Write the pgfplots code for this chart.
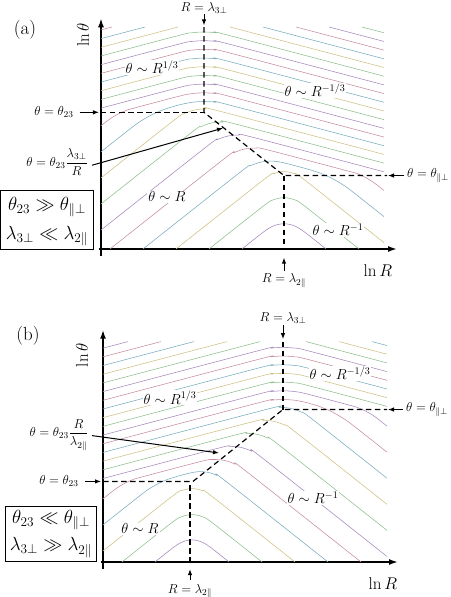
\RequirePackage{fix-cm}
\documentclass[border=0pt]{standalone}
\usepackage{pgfplots}
\pgfplotsset{compat=1.18}
\usetikzlibrary{arrows.meta}
\definecolor{c0}{RGB}{165,135,188}
\definecolor{c1}{RGB}{140,190,140}
\definecolor{c2}{RGB}{205,192,130}
\definecolor{c3}{RGB}{120,172,190}
\definecolor{c4}{RGB}{198,140,158}
\pgfplotsset{
  cl/.style={line width=0.55pt, smooth, tension=0.5, no markers},
  dl/.style={line width=1.2pt, dash pattern=on 5.5pt off 3.5pt, black, no markers},
  panel/.style={anchor=south west, x=1pt, y=0.79pt, enlargelimits=false,
    axis lines=middle, xtick=\empty, ytick=\empty, clip=false,
    axis line style={line width=1.6pt},
    every inner x axis line/.append style={-{Latex[length=9pt,width=6pt]}},
    every inner y axis line/.append style={-{Latex[length=9pt,width=6pt]}}},
}
\tikzset{
  arr/.style={-{Latex[length=6pt,width=4.5pt]}, line width=1pt},
  sm/.style={font=\fontsize{13}{15}\selectfont},
  rg/.style={font=\fontsize{14.5}{16}\selectfont, fill=white, inner sep=1pt},
  bx/.style={font=\fontsize{19}{22}\selectfont},
  ax/.style={font=\fontsize{17}{20}\selectfont},
}
\begin{document}
\begin{tikzpicture}
\path[use as bounding box] (0pt,0pt) rectangle (450pt,597pt);
% ---------------- panel (a)
\begin{axis}[panel, at={(99pt,340.89pt)}, xmin=-2, xmax=296, ymin=-9, ymax=292]
\addplot[cl,c0] coordinates {(141,0) (163,22) (173,29.5) (183,32) (193,29.5) (203,22) (225,0)};
\addplot[cl,c1] coordinates {(108,0) (163,55) (173,62.5) (183,65) (193,62.5) (203,55) (258,0)};
\addplot[cl,c2] coordinates {(75,0) (163,88) (173,95.5) (183,98) (193,95.5) (203,88) (283,8)};
\addplot[cl,c3] coordinates {(42,0) (139,97) (149.25,105.25) (160,110) (171.25,111.25) (183,109) (207,101) (218.75,96.25) (230,90) (240.75,82.25) (251,73) (283,41)};
\addplot[cl,c4] coordinates {(9,0) (122.5,113.5) (132.75,121.75) (143.5,126.5) (154.75,127.75) (166.5,125.5) (249.6,97.8) (256.65,94.95) (263.4,91.2) (269.85,86.55) (276,81) (283,74)};
\addplot[cl,c0] coordinates {(0,24) (106,130) (116.25,138.25) (127,143) (138.25,144.25) (150,142) (283,97.7)};
\addplot[cl,c1] coordinates {(0,57) (89.5,146.5) (99.75,154.75) (110.5,159.5) (121.75,160.75) (133.5,158.5) (283,108.7)};
\addplot[cl,c2] coordinates {(0,90) (73,163) (83.25,171.25) (94,176) (105.25,177.25) (117,175) (283,119.7)};
\addplot[cl,c3] coordinates {(0,123) (30,153) (40.25,162.25) (51,170) (62.25,176.25) (74,181) (79,182.7) (91,185.7) (103,186.7) (115,185.7) (127,182.7) (283,130.7)};
\addplot[cl,c4] coordinates {(0,156) (5,161) (11.15,166.55) (17.6,171.2) (24.35,174.95) (31.4,177.8) (79,193.7) (91,196.7) (103,197.7) (115,196.7) (127,193.7) (283,141.7)};
\addplot[cl,c0] coordinates {(0,178.3) (79,204.7) (91,207.7) (103,208.7) (115,207.7) (127,204.7) (283,152.7)};
\addplot[cl,c1] coordinates {(0,189.3) (79,215.7) (91,218.7) (103,219.7) (115,218.7) (127,215.7) (283,163.7)};
\addplot[cl,c2] coordinates {(0,200.3) (79,226.7) (91,229.7) (103,230.7) (115,229.7) (127,226.7) (283,174.7)};
\addplot[cl,c3] coordinates {(0,211.3) (79,237.7) (91,240.7) (103,241.7) (115,240.7) (127,237.7) (283,185.7)};
\addplot[cl,c4] coordinates {(0,222.3) (79,248.7) (91,251.7) (103,252.7) (115,251.7) (127,248.7) (283,196.7)};
\addplot[cl,c0] coordinates {(0,233.3) (79,259.7) (91,262.7) (103,263.7) (115,262.7) (127,259.7) (283,207.7)};
\addplot[cl,c1] coordinates {(0,244.3) (79,270.7) (91,273.7) (103,274.7) (115,273.7) (127,270.7) (283,218.7)};
\addplot[cl,c2] coordinates {(0,255.3) (77,281)};
\addplot[cl,c2] coordinates {(129,281) (283,229.7)};
\addplot[cl,c3] coordinates {(0,266.3) (44,281)};
\addplot[cl,c3] coordinates {(162,281) (283,240.7)};
\addplot[cl,c4] coordinates {(0,277.3) (11,281)};
\addplot[cl,c4] coordinates {(195,281) (283,251.7)};
\addplot[cl,c0] coordinates {(228,281) (283,262.7)};
\addplot[cl,c1] coordinates {(261,281) (283,273.7)};
% dashed boundaries
\addplot[dl] coordinates {(0,173) (103,173)};
\addplot[dl] coordinates {(103,281) (103,173) (183,93) (286,93)};
\addplot[dl] coordinates {(183,93) (183,0)};
% annotations
\node[sm] at (103,305) {$R=\lambda_{3\perp}$};
\draw[arr] (103,297) -- (103,283);
\node[sm,anchor=east] at (-24,173) {$\theta=\theta_{23}$};
\draw[arr] (-21,173) -- (-2,173);
\node[sm] at (-44,110) {$\displaystyle\theta=\theta_{23}\frac{\lambda_{3\perp}}{R}$};
\draw[arr] (-9,106) -- (122,153);
\node[sm,anchor=west,inner sep=1pt] at (305,93) {$\theta=\theta_{\parallel\perp}$};
\draw[arr] (303,93) -- (287,93);
\node[sm] at (183,-40) {$R=\lambda_{2\parallel}$};
\draw[arr] (183,-28) -- (183,-11);
\node[ax] at (277,-27) {$\ln R$};
\node[ax,rotate=90] at (-18,271) {$\ln\theta$};
\node[bx] at (-76,277) {(a)};
\node[rg] at (51,230) {$\theta\sim R^{1/3}$};
\node[rg] at (214,201) {$\theta\sim R^{-1/3}$};
\node[rg] at (66,66) {$\theta\sim R$};
\node[rg] at (237,24) {$\theta\sim R^{-1}$};
\draw[line width=0.8pt] (-101,0) rectangle (-8,74.7);
\node[bx] at (-54,53) {$\theta_{23}\gg\theta_{\parallel\perp}$};
\node[bx] at (-54,16.5) {$\lambda_{3\perp}\ll\lambda_{2\parallel}$};
\end{axis}
% ---------------- panel (b)
\begin{axis}[panel, at={(101pt,27.89pt)}, xmin=-2, xmax=295, ymin=-9, ymax=294]
\addplot[cl,c0] coordinates {(52,0) (71,19) (80,25.75) (89,28) (98,25.75) (107,19) (126,0)};
\addplot[cl,c1] coordinates {(19,0) (69,50) (79,57.5) (89,60) (99,57.5) (109,50) (159,0)};
\addplot[cl,c2] coordinates {(0,14) (69,83) (79,90.5) (89,93) (99,90.5) (109,83) (192,0)};
\addplot[cl,c3] coordinates {(0,47) (39,86) (47.2,93.4) (55.8,99.6) (64.8,104.6) (74.2,108.4) (86.8,112.6) (96.2,114.4) (105.2,113.4) (113.8,109.6) (122,103) (225,0)};
\addplot[cl,c4] coordinates {(0,80) (10,90) (16.15,95.55) (22.6,100.2) (29.35,103.95) (36.4,106.8) (98.5,127.5) (110.25,129.75) (121.5,128.5) (132.25,123.75) (142.5,115.5) (258,0)};
\addplot[cl,c0] coordinates {(0,105.7) (115,144) (126.75,146.25) (138,145) (148.75,140.25) (159,132) (284,7)};
\addplot[cl,c1] coordinates {(0,116.7) (131.5,160.5) (143.25,162.75) (154.5,161.5) (165.25,156.75) (175.5,148.5) (284,40)};
\addplot[cl,c2] coordinates {(0,127.7) (148,177) (159.75,179.25) (171,178) (181.75,173.25) (192,165) (284,73)};
\addplot[cl,c3] coordinates {(0,138.7) (164.5,193.5) (176.25,195.75) (187.5,194.5) (198.25,189.75) (208.5,181.5) (284,106)};
\addplot[cl,c4] coordinates {(0,149.7) (156,201.7) (168,204.7) (180,205.7) (192,204.7) (204,201.7) (206,201) (217.75,196.25) (229,190) (239.75,182.25) (250,173) (284,139)};
\addplot[cl,c0] coordinates {(0,160.7) (156,212.7) (168,215.7) (180,216.7) (192,215.7) (204,212.7) (248.6,197.8) (255.65,194.95) (262.4,191.2) (268.85,186.55) (275,181) (284,172)};
\addplot[cl,c1] coordinates {(0,171.7) (156,223.7) (168,226.7) (180,227.7) (192,226.7) (204,223.7) (284,197)};
\addplot[cl,c2] coordinates {(0,182.7) (156,234.7) (168,237.7) (180,238.7) (192,237.7) (204,234.7) (284,208)};
\addplot[cl,c3] coordinates {(0,193.7) (156,245.7) (168,248.7) (180,249.7) (192,248.7) (204,245.7) (284,219)};
\addplot[cl,c4] coordinates {(0,204.7) (156,256.7) (168,259.7) (180,260.7) (192,259.7) (204,256.7) (284,230)};
\addplot[cl,c0] coordinates {(0,215.7) (156,267.7) (168,270.7) (180,271.7) (192,270.7) (204,267.7) (284,241)};
\addplot[cl,c1] coordinates {(0,226.7) (157,279)};
\addplot[cl,c1] coordinates {(203,279) (284,252)};
\addplot[cl,c2] coordinates {(0,237.7) (124,279)};
\addplot[cl,c2] coordinates {(236,279) (284,263)};
\addplot[cl,c3] coordinates {(0,248.7) (91,279)};
\addplot[cl,c3] coordinates {(269,279) (284,274)};
\addplot[cl,c4] coordinates {(0,259.7) (58,279)};
\addplot[cl,c0] coordinates {(0,270.7) (25,279)};
% dashed boundaries
\addplot[dl] coordinates {(0,102) (90,102) (180,193) (284,193)};
\addplot[dl] coordinates {(180,279) (180,193)};
\addplot[dl] coordinates {(87,97) (87,0)};
% annotations
\node[sm] at (180,309) {$R=\lambda_{3\perp}$};
\draw[arr] (180,300) -- (180,282);
\node[sm,anchor=east] at (-21,102) {$\theta=\theta_{23}$};
\draw[arr] (-18,102) -- (-2,102);
\node[sm] at (-44,161) {$\displaystyle\theta=\theta_{23}\frac{R}{\lambda_{2\parallel}}$};
\draw[arr] (-11,160) -- (116,138);
\node[sm,anchor=west,inner sep=1pt] at (302,193) {$\theta=\theta_{\parallel\perp}$};
\draw[arr] (300,193) -- (285,193);
\node[sm] at (87,-37) {$R=\lambda_{2\parallel}$};
\draw[arr] (87,-23) -- (87,-9);
\node[ax] at (280,-27) {$\ln R$};
\node[ax,rotate=90] at (-21,262) {$\ln\theta$};
\node[bx] at (-75,287) {(b)};
\node[rg] at (67,208) {$\theta\sim R^{1/3}$};
\node[rg] at (237,239) {$\theta\sim R^{-1/3}$};
\node[rg] at (210,81) {$\theta\sim R^{-1}$};
\node[rg] at (37,42) {$\theta\sim R$};
\draw[line width=0.8pt] (-98,1) rectangle (-7,71);
\node[bx] at (-52,53) {$\theta_{23}\ll\theta_{\parallel\perp}$};
\node[bx] at (-52,18) {$\lambda_{3\perp}\gg\lambda_{2\parallel}$};
\end{axis}
\end{tikzpicture}
\end{document}
